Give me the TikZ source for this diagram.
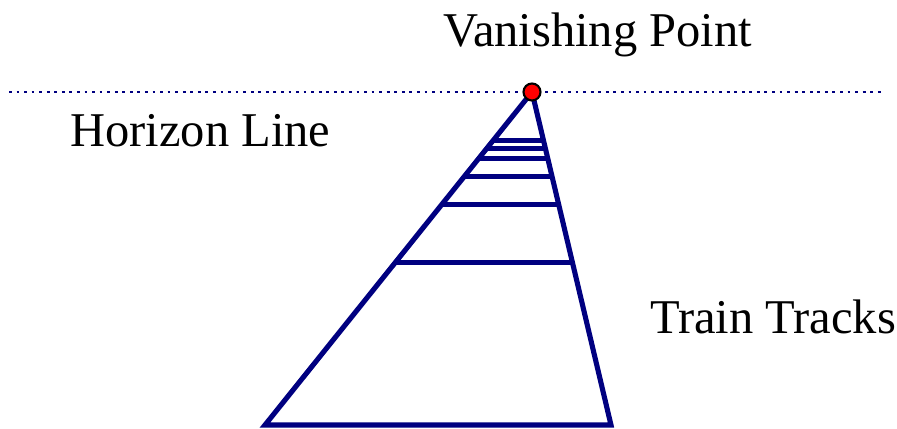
\documentclass[tikz,border=0pt]{standalone}
\usepackage{fontspec}
\setmainfont{Liberation Serif}
\usetikzlibrary{calc}
\definecolor{trackblue}{RGB}{0,0,128}

\begin{document}
\begin{tikzpicture}[x=0.02cm, y=-0.02cm,
    track/.style={draw=trackblue, line width=2.9pt},
    label/.style={anchor=base west, inner sep=0pt, font=\fontsize{27.6}{33}\selectfont}]
    \useasboundingbox (0,0) rectangle (897,429);

    \node[label] (vptext) at (443, 47) {Vanishing Point};
    \node[label] (hltext) at (70, 147) {Horizon Line};
    \node[label] (tttext) at (650, 334) {Train Tracks};

    \coordinate (hl) at (9, 92);
    \coordinate (hr) at (885, 92);
    \coordinate (vp) at (532, 92);
    \coordinate (bl) at (265, 425);
    \coordinate (br) at (611, 425);

    \draw[trackblue, line width=1.3pt, dash pattern=on 1.6pt off 2.7pt] (hl) -- (hr);

    \draw[track] (vp) -- (bl) -- (br) -- cycle;
    \foreach \t in {0.147, 0.171, 0.201, 0.255, 0.339, 0.511}
        \draw[track] ($(vp)!\t!(bl)$) -- ($(vp)!\t!(br)$);

    \node[circle, draw=black, fill=red, line width=1.2pt, minimum size=0.34cm, inner sep=0pt] (vpdot) at (vp) {};
\end{tikzpicture}
\end{document}
